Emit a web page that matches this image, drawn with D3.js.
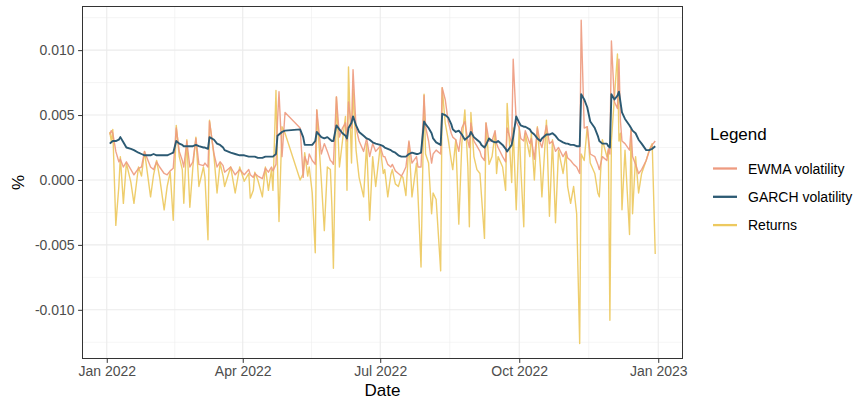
<!DOCTYPE html>
<html><head><meta charset="utf-8">
<script src="https://cdn.jsdelivr.net/npm/d3@7"></script>
<style>body{margin:0;background:#fff}svg{display:block}text{font-family:"Liberation Sans",Arial,Helvetica,sans-serif}</style>
</head><body><svg id="c" width="858" height="401"></svg>
<script>
const dates = ["2022-01-03","2022-01-04","2022-01-05","2022-01-07","2022-01-09","2022-01-10","2022-01-12","2022-01-14","2022-01-17","2022-01-19",
"2022-01-22","2022-01-24","2022-01-26","2022-01-30","2022-02-01","2022-02-03","2022-02-05","2022-02-08","2022-02-10","2022-02-12",
"2022-02-14","2022-02-16","2022-02-18","2022-02-20","2022-02-21","2022-02-23","2022-02-25","2022-02-27","2022-03-01","2022-03-03",
"2022-03-06","2022-03-07","2022-03-09","2022-03-10","2022-03-13","2022-03-15","2022-03-17","2022-03-19","2022-03-20","2022-03-24",
"2022-03-27","2022-03-30","2022-04-02","2022-04-05","2022-04-06","2022-04-08","2022-04-09","2022-04-11","2022-04-14","2022-04-16",
"2022-04-18","2022-04-20","2022-04-21","2022-04-23","2022-04-24","2022-04-25","2022-04-27","2022-04-29","2022-05-09","2022-05-11",
"2022-05-12","2022-05-14","2022-05-15","2022-05-17","2022-05-19","2022-05-20","2022-05-23","2022-05-25","2022-05-27","2022-05-29",
"2022-05-30","2022-05-31","2022-06-02","2022-06-04","2022-06-06","2022-06-08","2022-06-09","2022-06-10","2022-06-12","2022-06-13",
"2022-06-15","2022-06-17","2022-06-20","2022-06-22","2022-06-24","2022-06-26","2022-06-28","2022-07-01","2022-07-03","2022-07-04",
"2022-07-06","2022-07-08","2022-07-09","2022-07-11","2022-07-13","2022-07-15","2022-07-16","2022-07-18","2022-07-20","2022-07-22",
"2022-07-25","2022-07-26","2022-07-28","2022-07-30","2022-07-31","2022-08-02","2022-08-04","2022-08-05","2022-08-07","2022-08-10",
"2022-08-11","2022-08-13","2022-08-15","2022-08-17","2022-08-18","2022-08-20","2022-08-22","2022-08-24","2022-08-26","2022-08-28",
"2022-08-29","2022-08-30","2022-09-01","2022-09-03","2022-09-05","2022-09-06","2022-09-08","2022-09-09","2022-09-11","2022-09-13",
"2022-09-15","2022-09-16","2022-09-17","2022-09-20","2022-09-22","2022-09-23","2022-09-26","2022-09-27","2022-09-29","2022-10-01",
"2022-10-02","2022-10-04","2022-10-05","2022-10-08","2022-10-09","2022-10-11","2022-10-13","2022-10-15","2022-10-16","2022-10-19",
"2022-10-21","2022-10-23","2022-10-25","2022-10-27","2022-10-30","2022-11-01","2022-11-02","2022-11-04","2022-11-06","2022-11-08",
"2022-11-10","2022-11-11","2022-11-13","2022-11-15","2022-11-17","2022-11-20","2022-11-22","2022-11-23","2022-11-25","2022-11-28",
"2022-11-29","2022-11-30","2022-12-01","2022-12-03","2022-12-05","2022-12-06","2022-12-07","2022-12-08","2022-12-10","2022-12-13",
"2022-12-14","2022-12-15","2022-12-17","2022-12-19","2022-12-21","2022-12-24","2022-12-26","2022-12-28","2022-12-30"];

const returns = [0.0037,0.0030,0.0039,-0.0035,-0.0005,0.0018,-0.0018,0.0013,-0.0002,-0.0018,
0.0010,0.0003,0.0022,-0.0013,0.0004,0.0015,0.0002,-0.0023,-0.0005,0.0006,
-0.0031,0.0042,0.0018,0.0008,-0.0018,0.0031,-0.0021,0.0010,0.0033,-0.0005,
0.0010,0.0002,-0.0046,0.0046,0.0018,-0.0010,0.0013,0.0003,-0.0005,0.0010,
-0.0010,0.0010,-0.0001,0.0005,-0.0014,-0.0008,0.0006,0.0000,-0.0013,0.0010,
-0.0008,0.0008,-0.0008,0.0069,0.0012,-0.0032,0.0041,0.0036,0.0000,0.0005,
0.0021,0.0003,0.0010,-0.0010,-0.0056,0.0054,0.0000,-0.0039,0.0010,0.0008,
-0.0020,-0.0068,0.0064,0.0010,0.0030,0.0049,-0.0008,0.0087,0.0013,0.0070,
0.0023,0.0002,-0.0013,0.0028,-0.0031,0.0018,-0.0005,0.0026,0.0005,0.0008,
-0.0013,0.0004,0.0008,-0.0003,-0.0005,0.0003,0.0002,-0.0012,0.0029,-0.0013,
0.0013,-0.0012,-0.0067,0.0066,0.0020,0.0013,-0.0026,-0.0010,-0.0015,-0.0070,
0.0071,0.0044,0.0031,0.0015,0.0008,0.0031,-0.0034,0.0028,0.0054,0.0010,
-0.0036,0.0052,0.0018,0.0008,0.0005,-0.0012,-0.0045,0.0044,0.0012,0.0018,
0.0036,0.0005,0.0018,0.0010,-0.0008,0.0059,-0.0002,0.0040,-0.0023,0.0041,
0.0010,-0.0036,0.0036,0.0018,0.0036,0.0000,0.0041,0.0010,-0.0013,0.0046,
-0.0028,0.0031,-0.0033,0.0023,0.0005,0.0021,-0.0005,-0.0018,-0.0005,-0.0026,
-0.0126,0.0020,0.0015,0.0041,0.0013,0.0005,-0.0010,-0.0013,0.0031,0.0018,
0.0023,-0.0108,0.0030,0.0064,0.0097,0.0030,0.0036,-0.0023,0.0023,-0.0042,
0.0039,-0.0026,0.0018,-0.0010,0.0005,0.0015,0.0023,0.0028,-0.0057];

const ewma = [0.0035,0.0038,0.0036,0.0022,0.0014,0.0016,0.0010,0.0014,0.0008,0.0004,
0.0009,0.0010,0.0022,0.0010,0.0008,0.0014,0.0010,0.0005,0.0004,0.0007,
0.0009,0.0040,0.0022,0.0015,0.0010,0.0030,0.0010,0.0014,0.0032,0.0012,
0.0011,0.0013,0.0010,0.0045,0.0020,0.0010,0.0014,0.0011,0.0006,0.0010,
0.0004,0.0008,0.0004,0.0008,0.0004,0.0002,0.0005,0.0003,0.0001,0.0009,
0.0006,0.0010,0.0007,0.0012,0.0045,0.0068,0.0018,0.0052,0.0040,0.0002,
0.0018,0.0012,0.0020,0.0015,0.0012,0.0054,0.0020,0.0028,0.0022,0.0015,
0.0014,0.0012,0.0064,0.0033,0.0040,0.0044,0.0030,0.0060,0.0040,0.0085,
0.0040,0.0030,0.0022,0.0032,0.0018,0.0028,0.0022,0.0026,0.0018,0.0018,
0.0012,0.0010,0.0012,0.0007,0.0005,0.0003,0.0005,0.0010,0.0030,0.0013,
0.0018,0.0010,0.0010,0.0065,0.0041,0.0030,0.0013,0.0020,0.0023,0.0020,
0.0071,0.0062,0.0045,0.0036,0.0033,0.0031,0.0022,0.0040,0.0045,0.0030,
0.0025,0.0044,0.0030,0.0026,0.0022,0.0018,0.0015,0.0044,0.0030,0.0030,
0.0038,0.0028,0.0025,0.0018,0.0014,0.0040,0.0028,0.0093,0.0045,0.0040,
0.0032,0.0030,0.0038,0.0028,0.0032,0.0016,0.0040,0.0028,0.0025,0.0042,
0.0028,0.0030,0.0022,0.0025,0.0018,0.0022,0.0017,0.0015,0.0012,0.0010,
0.0005,0.0123,0.0040,0.0041,0.0020,0.0018,0.0012,0.0008,0.0018,0.0015,
0.0024,0.0020,0.0107,0.0060,0.0055,0.0093,0.0045,0.0030,0.0028,0.0023,
0.0039,0.0018,0.0012,0.0005,0.0008,0.0015,0.0022,0.0027,0.0030];

const garch = [0.0028,0.0029,0.0030,0.0030,0.0031,0.0033,0.0029,0.0025,0.0024,0.0023,
0.0021,0.0020,0.0019,0.0019,0.0020,0.0019,0.0019,0.0019,0.0019,0.0020,
0.0021,0.0030,0.0028,0.0027,0.0026,0.0026,0.0026,0.0026,0.0027,0.0026,
0.0025,0.0025,0.0024,0.0033,0.0031,0.0028,0.0027,0.0025,0.0023,0.0021,
0.0020,0.0019,0.0019,0.0018,0.0018,0.0018,0.0018,0.0017,0.0017,0.0018,
0.0018,0.0018,0.0018,0.0020,0.0034,0.0035,0.0037,0.0038,0.0039,0.0033,
0.0027,0.0027,0.0027,0.0027,0.0030,0.0037,0.0033,0.0032,0.0033,0.0031,
0.0030,0.0030,0.0042,0.0039,0.0036,0.0034,0.0032,0.0040,0.0044,0.0049,
0.0042,0.0037,0.0034,0.0032,0.0031,0.0029,0.0028,0.0027,0.0026,0.0025,
0.0024,0.0023,0.0022,0.0021,0.0019,0.0018,0.0018,0.0018,0.0020,0.0021,
0.0020,0.0020,0.0021,0.0045,0.0043,0.0040,0.0036,0.0032,0.0029,0.0027,
0.0051,0.0050,0.0048,0.0043,0.0039,0.0037,0.0038,0.0035,0.0031,0.0033,
0.0034,0.0037,0.0033,0.0031,0.0029,0.0027,0.0025,0.0027,0.0032,0.0030,
0.0029,0.0029,0.0030,0.0027,0.0024,0.0022,0.0027,0.0033,0.0049,0.0044,
0.0042,0.0041,0.0041,0.0039,0.0037,0.0035,0.0032,0.0030,0.0032,0.0035,
0.0035,0.0036,0.0034,0.0031,0.0029,0.0028,0.0028,0.0027,0.0027,0.0026,
0.0026,0.0066,0.0062,0.0056,0.0045,0.0040,0.0034,0.0030,0.0028,0.0028,
0.0026,0.0025,0.0066,0.0062,0.0065,0.0068,0.0060,0.0052,0.0047,0.0042,
0.0040,0.0038,0.0036,0.0031,0.0028,0.0023,0.0023,0.0024,0.0026];

const seriesNames = ["EWMA volatility", "GARCH volatility", "Returns"];
const seriesColors = ["#EE9B80", "#2C5A73", "#EDC95F"];
const yTicks = [-0.010, -0.005, 0.000, 0.005, 0.010];
const yTickLabels = ["-0.010", "-0.005", "0.000", "0.005", "0.010"];
const xTicks = ["2022-01-01", "2022-04-01", "2022-07-01", "2022-10-01", "2023-01-01"];
const xTickLabels = ["Jan 2022", "Apr 2022", "Jul 2022", "Oct 2022", "Jan 2023"];
const yLimits = [-0.01375, 0.01336];

const parse = d3.utcParse("%Y-%m-%d");
const dt = dates.map(parse);
const svg = d3.select("#c");
const P = {l: 82.5, r: 682.5, t: 6.5, b: 358.5};

const ext = d3.extent(dt);
const pad = (ext[1] - ext[0]) * 0.05;
const x = d3.scaleUtc().domain([new Date(+ext[0] - pad), new Date(+ext[1] + pad)]).range([P.l, P.r]);
const y = d3.scaleLinear().domain(yLimits).range([P.b, P.t]);

svg.append("rect").attr("width", 858).attr("height", 401).attr("fill", "#fff");

// grid
const xt = xTicks.map(parse);
const xMinor = [];
for (let i = 0; i < xt.length - 1; i++) xMinor.push(new Date((+xt[i] + +xt[i + 1]) / 2));
const yMinor = [yTicks[0] - 0.0025].concat(yTicks.map(v => v + 0.0025)).filter(v => v > yLimits[0] && v < yLimits[1]);
const g = svg.append("g");
g.selectAll(".ymn").data(yMinor).enter().append("line")
  .attr("x1", P.l).attr("x2", P.r).attr("y1", d => y(d)).attr("y2", d => y(d))
  .attr("stroke", "#EFEFEF").attr("stroke-width", 0.6);
g.selectAll(".xmn").data(xMinor).enter().append("line")
  .attr("y1", P.t).attr("y2", P.b).attr("x1", d => x(d)).attr("x2", d => x(d))
  .attr("stroke", "#EFEFEF").attr("stroke-width", 0.6);
g.selectAll(".ymj").data(yTicks).enter().append("line")
  .attr("x1", P.l).attr("x2", P.r).attr("y1", d => y(d)).attr("y2", d => y(d))
  .attr("stroke", "#EBEBEB").attr("stroke-width", 1.1);
g.selectAll(".xmj").data(xt).enter().append("line")
  .attr("y1", P.t).attr("y2", P.b).attr("x1", d => x(d)).attr("x2", d => x(d))
  .attr("stroke", "#EBEBEB").attr("stroke-width", 1.1);

// lines
const series = [ewma, garch, returns];
const drawOrder = [2, 0, 1];
const widths = [1.4, 1.9, 1.4];
const lineGen = vals => d3.line().x((d, i) => x(dt[i])).y(d => y(d))(vals);
const clip = svg.append("clipPath").attr("id", "pc").append("rect")
  .attr("x", P.l).attr("y", P.t).attr("width", P.r - P.l).attr("height", P.b - P.t);
const lg = svg.append("g").attr("clip-path", "url(#pc)");
drawOrder.forEach(k => {
  lg.append("path").attr("d", lineGen(series[k])).attr("fill", "none")
    .attr("stroke", seriesColors[k]).attr("stroke-width", widths[k])
    .attr("stroke-linejoin", "round").attr("opacity", k === 1 ? 1 : 0.92);
});

// border
svg.append("rect").attr("x", P.l).attr("y", P.t).attr("width", P.r - P.l).attr("height", P.b - P.t)
  .attr("fill", "none").attr("stroke", "#333333").attr("stroke-width", 1);

// axes
const yAxis = d3.axisLeft(y).tickValues(yTicks).tickSize(4.4).tickPadding(3.5)
  .tickFormat((d, i) => yTickLabels[i]);
const ya = svg.append("g").attr("transform", `translate(${P.l},0)`).call(yAxis);
const xAxis = d3.axisBottom(x).tickValues(xt).tickSize(4.4).tickPadding(3.5)
  .tickFormat((d, i) => xTickLabels[i]);
const xa = svg.append("g").attr("transform", `translate(0,${P.b})`).call(xAxis);
[ya, xa].forEach(a => {
  a.select(".domain").remove();
  a.selectAll(".tick line").attr("stroke", "#333333").attr("stroke-width", 1);
  a.selectAll(".tick text").attr("fill", "#4D4D4D").style("font-size", "14px")
    .style("font-family", '"Liberation Sans", Arial, sans-serif');
});

// titles
svg.append("text").attr("x", (P.l + P.r) / 2).attr("y", 396).attr("text-anchor", "middle")
  .style("font-size", "17px").attr("fill", "#000").text("Date");
svg.append("text").attr("transform", `translate(24,${(P.t + P.b) / 2}) rotate(-90)`)
  .attr("text-anchor", "middle").style("font-size", "17px").attr("fill", "#000").text("%");

// legend
const leg = svg.append("g");
leg.append("text").attr("x", 710).attr("y", 140).style("font-size", "17px").attr("fill", "#000").text("Legend");
seriesNames.forEach((n, i) => {
  const cy = 168.5 + i * 28.3;
  leg.append("line").attr("x1", 713).attr("x2", 737).attr("y1", cy).attr("y2", cy)
    .attr("stroke", seriesColors[i]).attr("stroke-width", 2.3);
  leg.append("text").attr("x", 748).attr("y", cy).attr("dy", "0.36em")
    .style("font-size", "14px").attr("fill", "#000").text(n);
});
</script></body></html>
